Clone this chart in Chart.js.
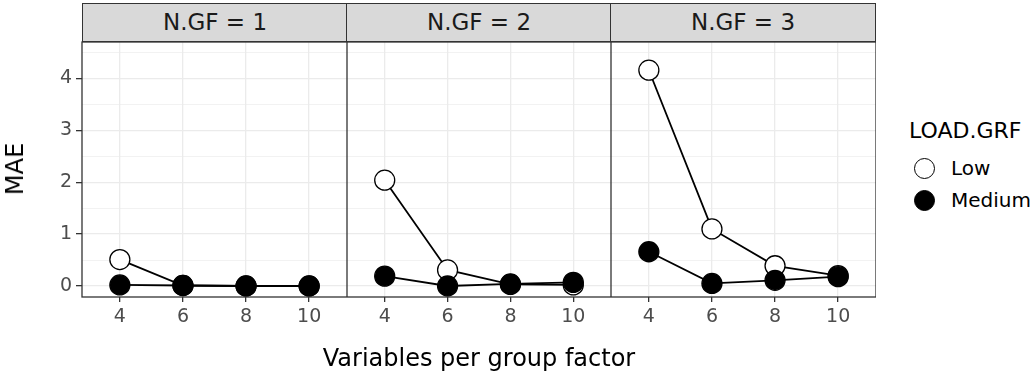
<!DOCTYPE html>
<html>
<head>
<meta charset="utf-8">
<script src="https://cdn.jsdelivr.net/npm/chart.js@4"></script>
<style>
  body { margin: 0; background: #fff; font-family: "DejaVu Sans", sans-serif; }
  #wrap { position: relative; width: 1032px; height: 371px; overflow: hidden; }
  canvas { position: absolute; top: 0; }
  .strip { position: absolute; top: 3px; height: 39px; box-sizing: border-box; background: #D9D9D9;
           border: 1.3px solid #333; color: #1A1A1A; font-size: 23px; text-align: center; line-height: 37px; }
  .txt { position: absolute; white-space: nowrap; color: #000; }
  .key { position: absolute; width: 21px; height: 21px; border-radius: 50%; border: 1.3px solid #000; box-sizing: border-box; }
</style>
</head>
<body>
<div id="wrap">
  <canvas id="p0" width="347" height="371" style="left:0px"></canvas>
  <canvas id="p1" width="264" height="371" style="left:347px"></canvas>
  <canvas id="p2" width="265" height="371" style="left:611px"></canvas>
  <div class="strip" style="left:82px;width:266px">N.GF = 1</div>
  <div class="strip" style="left:346px;width:266px">N.GF = 2</div>
  <div class="strip" style="left:610px;width:266px">N.GF = 3</div>
  <div class="txt" style="left:0px;top:169px;font-size:24px;transform:translate(-50%,-50%) rotate(-90deg);margin-left:15px">MAE</div>
  <div class="txt" style="left:479px;top:344px;font-size:24px;transform:translateX(-50%)">Variables per group factor</div>
  <div class="txt" style="left:909px;top:118px;font-size:22px">LOAD.GRF</div>
  <div class="key" style="left:914px;top:158px;background:#fff"></div>
  <div class="key" style="left:914px;top:190px;background:#000"></div>
  <div class="txt" style="left:951px;top:156px;font-size:20px">Low</div>
  <div class="txt" style="left:951px;top:188px;font-size:20px">Medium</div>
</div>
<script>
// x categories (variables per group factor)
const variables = [4, 6, 8, 10];
const panelNames = ["N.GF = 1", "N.GF = 2", "N.GF = 3"];
// MAE per panel, one value per x category
const lowMAE = [
  [0.51, 0.01, 0.00, 0.00],
  [2.04, 0.31, 0.03, 0.02],
  [4.16, 1.10, 0.39, 0.20]
];
const mediumMAE = [
  [0.02, 0.01, 0.00, 0.00],
  [0.19, 0.00, 0.04, 0.07],
  [0.66, 0.05, 0.11, 0.18]
];
const yGridValues = [0, 0.5, 1, 1.5, 2, 2.5, 3, 3.5, 4, 4.5];

function pts(vals) {
  return variables.map((v, i) => ({ x: v, y: vals[i] }));
}

const panelBorder = {
  id: 'panelBorder',
  afterDatasetsDraw(chart) {
    const a = chart.chartArea;
    const c = chart.ctx;
    c.save();
    c.strokeStyle = '#333333';
    c.lineWidth = 1.3;
    c.strokeRect(a.left, a.top, a.right - a.left, a.bottom - a.top);
    c.restore();
  }
};

panelNames.forEach((name, p) => {
  const first = p === 0;
  const ctx = document.getElementById('p' + p).getContext('2d');
  new Chart(ctx, {
    type: 'scatter',
    data: {
      datasets: [
        { label: 'Low', data: pts(lowMAE[p]), showLine: true, pointRadius: 0, borderColor: '#000', borderWidth: 1.8, order: 4 },
        { label: 'Medium', data: pts(mediumMAE[p]), showLine: true, pointRadius: 0, borderColor: '#000', borderWidth: 1.8, order: 3 },
        { label: 'Low', data: pts(lowMAE[p]), showLine: false, pointRadius: 10, pointBackgroundColor: '#fff', pointBorderColor: '#000', pointBorderWidth: 1.3, order: 2 },
        { label: 'Medium', data: pts(mediumMAE[p]), showLine: false, pointRadius: 10, pointBackgroundColor: '#000', pointBorderColor: '#000', pointBorderWidth: 1.3, order: 1 }
      ]
    },
    options: {
      responsive: false,
      animation: false,
      devicePixelRatio: 1,
      clip: 0,
      layout: { autoPadding: false, padding: { top: 42, bottom: 44, left: 0, right: 0 } },
      plugins: { legend: { display: false }, tooltip: { enabled: false } },
      scales: {
        x: {
          type: 'linear',
          min: 2.8,
          max: 11.2,
          afterBuildTicks: s => { s.ticks = variables.map(v => ({ value: v })); },
          afterFit: s => { s.height = 30; s.paddingLeft = 0; s.paddingRight = 0; },
          border: { display: false },
          grid: { color: '#EBEBEB', lineWidth: 1.3, tickColor: '#333333', tickLength: 5 },
          ticks: { color: '#4D4D4D', font: { family: 'DejaVu Sans', size: 19 }, padding: 4, maxRotation: 0 }
        },
        y: {
          min: -0.212,
          max: 4.704,
          afterBuildTicks: s => { s.ticks = yGridValues.map(v => ({ value: v })); },
          afterFit: s => { s.width = first ? 82 : 0; s.paddingTop = 0; s.paddingBottom = 0; },
          border: { display: false },
          grid: {
            color: '#EBEBEB',
            lineWidth: c => (c.tick && c.tick.value % 1 === 0) ? 1.3 : 0.65,
            tickColor: c => (c.tick && c.tick.value % 1 === 0) ? '#333333' : 'rgba(0,0,0,0)',
            tickLength: first ? 6 : 0,
            drawTicks: first
          },
          ticks: {
            display: first,
            color: '#4D4D4D',
            font: { family: 'DejaVu Sans', size: 19 },
            padding: 4,
            callback: v => (v % 1 === 0 ? String(v) : '')
          }
        }
      }
    },
    plugins: [panelBorder]
  });
});
</script>
</body>
</html>
